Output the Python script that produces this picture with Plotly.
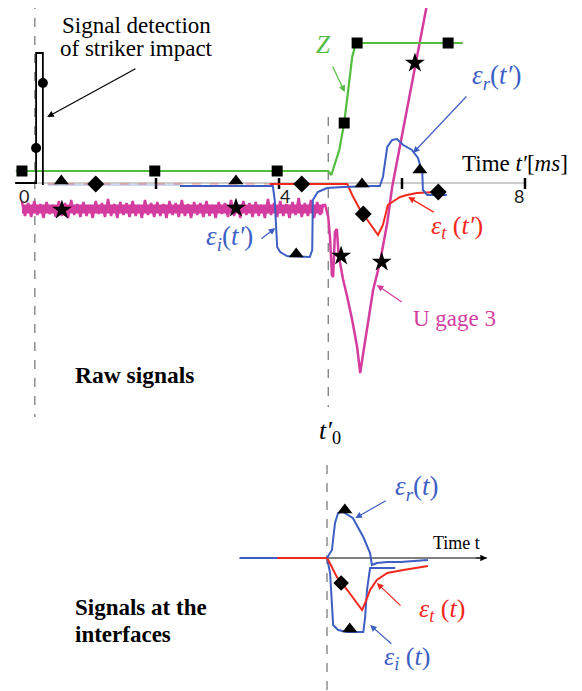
import plotly.graph_objs as go

# ---- top panel: raw signals (time t' in ms, amplitude in arbitrary units) ----
axis_t = [-0.29, 8.0]
tick_t = [2, 4, 6, 8]
tick_labels = ["0", "4", "8"]
tick_label_t = [-0.15, 4.1, 7.9]

# Z (green)
z_t = [-0.28, 4.80, 4.85, 4.91, 4.98, 5.06, 5.12, 5.19, 5.25, 6.99]
z_v = [1.2, 1.2, 0.8, 2.0, 3.3, 6.0, 9.3, 12.6, 14.0, 14.0]
z_mark_t = [-0.18, 1.98, 3.97, 5.06, 5.27, 6.75]
z_mark_v = [1.2, 1.2, 1.2, 6.0, 14.0, 14.0]

# striker impact detection (black)
striker_t = [-0.29, 0.05, 0.05, 0.16, 0.16]
striker_v = [0, 0, 13.0, 13.0, -0.2]
striker_mark_t = [0.05, 0.16]
striker_mark_v = [3.5, 10.0]

# transmitted strain eps_t (red); faint quiet part first
et_quiet_t = [0.24, 3.85]
et_quiet_v = [-0.1, -0.1]
et_t = [3.85, 5.11, 5.19, 5.32, 5.37, 5.61, 5.69, 5.77, 5.89, 5.97, 6.08, 6.24, 6.57]
et_v = [-0.1, -0.1, -1.2, -2.7, -3.1, -5.2, -4.2, -2.2, -1.7, -1.4, -1.2, -1.0, -0.9]
et_mark_t = [1.02, 4.37, 5.37, 6.59]
et_mark_v = [-0.1, -0.1, -3.1, -0.9]

# incident + reflected strain on input bar (blue); faint quiet part first
bar_quiet_t = [0.24, 2.39]
bar_quiet_v = [-0.2, -0.2]
bar_t = [2.39, 3.90, 3.93, 3.97, 4.02, 4.13, 4.50, 4.54, 4.55, 4.63, 4.78, 5.04, 5.53, 5.64,
         5.69, 5.76, 5.84, 5.92, 6.02, 6.16, 6.26, 6.33, 6.34, 6.41, 6.73]
bar_v = [-0.3, -0.3, -1.7, -6.4, -6.9, -7.3, -7.4, -6.7, -1.7, -0.9, -0.5, -0.4, -0.3, -0.3,
         0.6, 3.6, 4.3, 4.4, 3.8, 3.3, 2.5, 1.0, -0.7, -1.2, -1.2]
bar_mark_t = [0.46, 3.30, 4.28, 5.35, 6.29]
bar_mark_v = [0.2, 0.2, -7.1, -0.1, 1.3]

# U gage 3 (magenta): noisy baseline then the pulse
ug_level = -2.6
ug_noise_t = [-0.18, -0.13, -0.08, -0.03, 0.02, 0.07, 0.12, 0.17, 0.22, 0.27,
              0.32, 0.37, 0.42, 0.47, 0.52, 0.57, 0.62, 0.67, 0.72, 0.77,
              0.82, 0.87, 0.92, 0.97, 1.02, 1.07, 1.12, 1.17, 1.22, 1.27,
              1.32, 1.37, 1.42, 1.47, 1.52, 1.57, 1.62, 1.67, 1.72, 1.77,
              1.82, 1.87, 1.92, 1.97, 2.02, 2.07, 2.12, 2.17, 2.22, 2.27,
              2.32, 2.37, 2.42, 2.47, 2.52, 2.57, 2.62, 2.67, 2.72, 2.77,
              2.82, 2.87, 2.92, 2.97, 3.02, 3.07, 3.12, 3.17, 3.22, 3.27,
              3.32, 3.37, 3.42, 3.47, 3.52, 3.57, 3.62, 3.67, 3.72, 3.77,
              3.82, 3.87, 3.92, 3.97, 4.02, 4.07, 4.12, 4.17, 4.22, 4.27,
              4.32, 4.37, 4.42, 4.47, 4.52, 4.57, 4.62, 4.67, 4.72]
ug_noise_v = [-1.9, -3.3, -2.0, -3.4, -1.8, -3.2, -2.1, -3.5, -1.9, -3.1,
              -2.2, -3.4, -1.8, -3.3, -2.0, -3.5, -1.7, -3.2, -2.1, -3.4,
              -1.9, -3.3, -2.2, -3.5, -1.8, -3.1, -2.0, -3.4, -1.6, -3.3,
              -2.1, -3.5, -1.9, -3.2, -2.0, -3.4, -1.8, -3.3, -2.2, -3.5,
              -1.7, -3.2, -2.0, -3.4, -1.9, -3.3, -2.1, -3.5, -1.8, -3.2,
              -2.0, -3.4, -1.7, -3.3, -2.1, -3.5, -1.9, -3.2, -2.0, -3.4,
              -1.8, -3.3, -2.2, -3.5, -1.9, -3.1, -2.0, -3.4, -1.7, -3.3,
              -2.1, -3.5, -1.8, -3.2, -2.0, -3.4, -1.9, -3.3, -2.2, -3.5,
              -1.6, -3.2, -2.0, -3.4, -1.8, -3.3, -2.1, -3.5, -1.9, -3.2,
              -1.5, -3.4, -2.0, -3.3, -1.7, -3.5, -1.9, -3.2, -2.2]
ug_pulse_t = [4.75, 4.80, 4.83, 4.86, 4.88, 4.91, 4.94, 4.97, 5.04, 5.11, 5.19, 5.27, 5.32,
              5.37, 5.45, 5.53, 5.64, 5.76, 5.84, 5.97, 6.16, 6.29, 6.42]
ug_pulse_v = [-2.2, -3.4, -5.5, -9.2, -9.4, -4.9, -4.6, -7.2, -9.6, -11.4, -13.7, -16.4, -19.0,
              -17.0, -13.7, -10.7, -8.0, -4.0, -0.4, 3.8, 10.3, 14.3, 18.3]
ug_mark_t = [0.47, 3.30, 5.01, 5.67, 6.21]
ug_mark_v = [-2.7, -2.5, -7.3, -7.9, 12.0]

# ---- bottom panel: signals at the interfaces (time t, same scale, t=0 at t'0) ----
b_axis_t = [-1.42, 2.60]
bi_t = [-1.42, 0.0, 0.05, 0.08, 0.10, 0.18, 0.33, 0.59, 0.62, 0.65, 0.70, 0.75, 0.91, 1.11]
bi_v = [0, 0, -1.5, -4.9, -6.7, -7.2, -7.4, -7.4, -5.9, -3.2, -1.0, -1.0, -1.0, -1.0]
br_t = [0.0, 0.08, 0.13, 0.18, 0.26, 0.42, 0.59, 0.70, 0.73, 0.81, 0.98, 1.19, 1.64]
br_v = [0, 0.8, 3.5, 4.5, 4.6, 4.0, 2.1, 0.5, -0.7, -0.5, -0.4, -0.4, -0.2]
bt_t = [-0.81, 0.0, 0.02, 0.16, 0.33, 0.57, 0.62, 0.70, 0.81, 0.98, 1.24, 1.64]
bt_v = [0, 0, -0.2, -1.9, -3.2, -5.2, -4.5, -3.2, -2.2, -1.5, -1.2, -0.8]
b_tri_t = [0.29, 0.37]
b_tri_v = [4.8, -7.1]
b_dia_t = [0.23]
b_dia_v = [-2.5]

GREEN = "#52bd3f"
BLUE = "#3d5fc4"
RED = "#f2281c"
MAGENTA = "#d43c9f"
SERIF = "Liberation Serif, Times New Roman, DejaVu Serif, serif"


def line(x, y, color, width=2, dash=None, second=False, opacity=1.0):
    return go.Scatter(x=x, y=y, mode="lines", line=dict(color=color, width=width, dash=dash),
                      opacity=opacity,
                      xaxis="x2" if second else "x", yaxis="y2" if second else "y",
                      hoverinfo="skip", showlegend=False)


def marks(x, y, symbol, size, second=False):
    return go.Scatter(x=x, y=y, mode="markers", marker=dict(symbol=symbol, size=size, color="black"),
                      xaxis="x2" if second else "x", yaxis="y2" if second else "y",
                      hoverinfo="skip", showlegend=False)


def label(x, y, text, color="black", size=20, second=False, **kw):
    return dict(x=x, y=y, text=text, showarrow=False, font=dict(family=SERIF, size=size, color=color),
                xref="x2" if second else "x", yref="y2" if second else "y", **kw)


def arrow(tail, head, color, second=False):
    r = "x2" if second else "x"
    ry = "y2" if second else "y"
    return dict(x=head[0], y=head[1], ax=tail[0], ay=tail[1], xref=r, yref=ry, axref=r, ayref=ry,
                text="", showarrow=True, arrowhead=2, arrowsize=1.1, arrowwidth=1.2, arrowcolor=color)


fig = go.Figure()

# top panel
fig.add_trace(line(axis_t, [0, 0], "#9a9a9a", 1))
tx, ty = [], []
for t in tick_t:
    tx += [t, t, None]
    ty += [0.5, -0.6, None]
fig.add_trace(line(tx, ty, "black", 2.5))
fig.add_trace(line([0.03, 0.03], [18.3, -23.4], "#555555", 1, "dash"))
fig.add_trace(line([4.80, 4.80], [6.6, -22.4], "#555555", 1, "dash"))

# dense core of the noisy gauge baseline, then the sampled signal itself
fig.add_trace(line([ug_noise_t[0], ug_noise_t[-1]], [ug_level, ug_level], MAGENTA, 9))
fig.add_trace(line(ug_noise_t + ug_pulse_t, ug_noise_v + ug_pulse_v, MAGENTA, 2.5))
fig.add_trace(line(z_t, z_v, GREEN, 2.2))
fig.add_trace(line(et_quiet_t, et_quiet_v, RED, 1.2, "dash", opacity=0.5))
fig.add_trace(line(bar_quiet_t, bar_quiet_v, BLUE, 1, opacity=0.5))
fig.add_trace(line(et_t, et_v, RED, 2))
fig.add_trace(line(bar_t, bar_v, BLUE, 2))
fig.add_trace(line(striker_t, striker_v, "black", 1.8))

fig.add_trace(marks(z_mark_t, z_mark_v, "square", 11))
fig.add_trace(marks(striker_mark_t, striker_mark_v, "circle", 10))
fig.add_trace(marks(et_mark_t, et_mark_v, "diamond", 13))
fig.add_trace(marks(bar_mark_t, bar_mark_v, "triangle-up", 13))
fig.add_trace(marks(ug_mark_t, ug_mark_v, "star", 15))

# bottom panel
fig.add_trace(line([0.0, 0.0], [9.3, -13.3], "#555555", 1, "dash", True))
fig.add_trace(line(b_axis_t, [0, 0], "black", 1, None, True))
fig.add_trace(line(bi_t, bi_v, BLUE, 2, None, True))
fig.add_trace(line(bt_t, bt_v, RED, 2, None, True))
fig.add_trace(line(br_t, br_v, BLUE, 2, None, True))
fig.add_trace(marks(b_tri_t, b_tri_v, "triangle-up", 13, True))
fig.add_trace(marks(b_dia_t, b_dia_v, "diamond", 12, True))

ann = []
for t, s in zip(tick_label_t, tick_labels):
    ann.append(dict(x=t, y=-1.3, text=s, showarrow=False, font=dict(family="Lato", size=18, color="#222"),
                    xref="x", yref="y"))
ann += [
    label(7.84, 2.0, "Time <i>t′</i>[<i>ms</i>]", size=23),
    label(1.69, 15.8, "Signal detection", size=23),
    label(1.69, 13.5, "of striker impact", size=23),
    label(4.72, 13.9, "<i>Z</i>", GREEN, 25),
    label(7.54, 10.6, "<i>ε<sub>r</sub></i>(<i>t′</i>)", BLUE, 27),
    label(6.89, -4.4, "<i>ε<sub>t</sub></i> (<i>t′</i>)", RED, 26),
    label(3.20, -5.5, "<i>ε<sub>i</sub></i>(<i>t′</i>)", BLUE, 27),
    label(6.86, -13.5, "U gage 3", MAGENTA, 23),
    label(0.65, -19.2, "<b>Raw signals</b>", size=23.5, xanchor="left"),
    label(4.83, -24.9, "<i>t′</i><sub>0</sub>", size=26),
    label(0.65, -42.4, "<b>Signals at the</b>", size=23, xanchor="left"),
    label(0.65, -45.1, "<b>interfaces</b>", size=23, xanchor="left"),
    arrow((1.69, 11.5), (0.23, 6.6), "black"),
    arrow((4.86, 11.8), (5.07, 9.1), GREEN),
    arrow((7.07, 8.8), (6.18, 3.0), BLUE),
    arrow((6.54, -3.0), (6.10, -1.4), RED),
    arrow((3.69, -5.7), (3.94, -4.5), BLUE),
    arrow((6.02, -12.0), (5.59, -10.2), MAGENTA),
    # bottom panel
    label(2.11, 1.5, "Time t", size=18, second=True),
    label(1.46, 7.0, "<i>ε<sub>r</sub></i>(<i>t</i>)", BLUE, 27, True),
    label(1.87, -5.2, "<i>ε<sub>t</sub></i> (<i>t</i>)", RED, 26, True),
    label(1.30, -10.0, "<i>ε<sub>i</sub></i> (<i>t</i>)", BLUE, 26, True),
    arrow((2.40, 0), (2.60, 0), "black", True),
    arrow((0.98, 5.8), (0.46, 4.0), BLUE, True),
    arrow((1.22, -4.9), (0.81, -2.5), RED, True),
    arrow((1.07, -8.7), (0.70, -6.7), BLUE, True),
]

# the page body adds an 8 px margin, so the figure is 8 px smaller and the ranges start 8 px in
fig.update_layout(
    width=574, height=683,
    margin=dict(l=0, r=0, t=0, b=0),
    paper_bgcolor="white", plot_bgcolor="rgba(0,0,0,0)",
    showlegend=False,
    xaxis=dict(range=[-0.407, 8.927], visible=False, fixedrange=True),
    yaxis=dict(range=[-50.8, 17.5], visible=False, fixedrange=True),
    xaxis2=dict(range=[-5.187, 4.146], visible=False, overlaying="x", fixedrange=True),
    yaxis2=dict(range=[-13.3, 55.0], visible=False, overlaying="y", fixedrange=True),
    annotations=ann,
)

fig.write_html("out.html")
